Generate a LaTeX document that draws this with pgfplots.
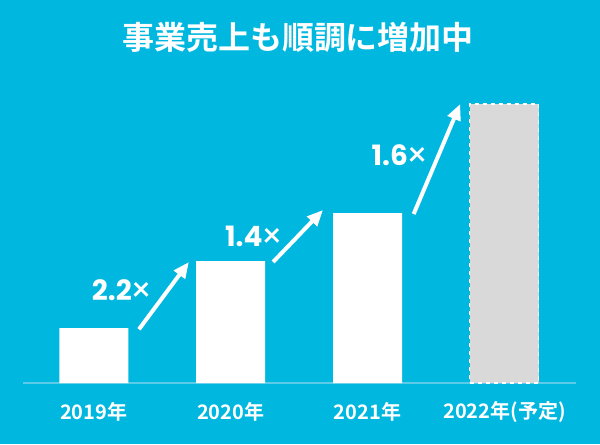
\documentclass[border=0pt]{standalone}
\usepackage{pgfplots}
\pgfplotsset{compat=1.18}
\usetikzlibrary{arrows.meta}
\usepackage{fontspec}
\setmainfont{Noto Sans CJK JP}
\newfontfamily\jpbold{Noto Sans CJK JP Bold}
\newfontfamily\numfont{Poppins}
\newfontfamily\timesfont{Lato}
\newcommand{\mult}{{\timesfont\bfseries\fontsize{24pt}{24pt}\selectfont ×}}
\definecolor{bg}{HTML}{00B8DF}
\definecolor{baseline}{HTML}{5CCBE8}
\definecolor{proj}{HTML}{D9D9D9}
\begin{document}
\begin{tikzpicture}[x=0.75pt,y=0.75pt]
\fill[bg] (0,0) rectangle (600,444);
\useasboundingbox (0,0) rectangle (600,444);
\node[text=white,font=\jpbold\fontsize{24pt}{28pt}\selectfont] at (298,407) {事業売上も順調に増加中};
\begin{axis}[
  at={(17,61)}, anchor=south west,
  scale only axis, width=414.75pt, height=219.75pt,
  xmin=-0.515, xmax=3.525, ymin=0, ymax=293,
  axis x line=bottom, axis y line=none,
  x axis line style={color=baseline, line width=1.2pt, -},
  xtick={0,1,2,3}, major tick length=0pt,
  xticklabels={2019年,2020年,2021年,2022年(予定)},
  xticklabel style={anchor=center, yshift=-21.75pt, text=white, font=\jpbold\fontsize{15pt}{18pt}\selectfont},
  ytick=\empty,
  clip=false,
]
\addplot[ybar, bar shift=0pt, bar width=51.75pt, fill=white, draw=none] coordinates {(0,55) (1,122) (2,170)};
\addplot[ybar, bar shift=0pt, bar width=51.75pt, fill=proj, draw=white, dashed, line width=0.8pt] coordinates {(3,279)};
\draw[white, line width=3pt, -{Triangle[length=12pt,width=10pt]}] (axis cs:0.33,53.7) -- (axis cs:0.695,121);
\draw[white, line width=3pt, -{Triangle[length=12pt,width=10pt]}] (axis cs:1.31,121) -- (axis cs:1.675,173);
\draw[white, line width=3pt, -{Triangle[length=12pt,width=10pt]}] (axis cs:2.337,169) -- (axis cs:2.677,279);
\node[text=white, font=\numfont\bfseries\fontsize{21pt}{24pt}\selectfont] at (axis cs:0.2,93) {2.2\mult};
\node[text=white, font=\numfont\bfseries\fontsize{21pt}{24pt}\selectfont] at (axis cs:1.164,147) {1.4\mult};
\node[text=white, font=\numfont\bfseries\fontsize{21pt}{24pt}\selectfont] at (axis cs:2.23,228) {1.6\mult};
\end{axis}
\end{tikzpicture}
\end{document}
